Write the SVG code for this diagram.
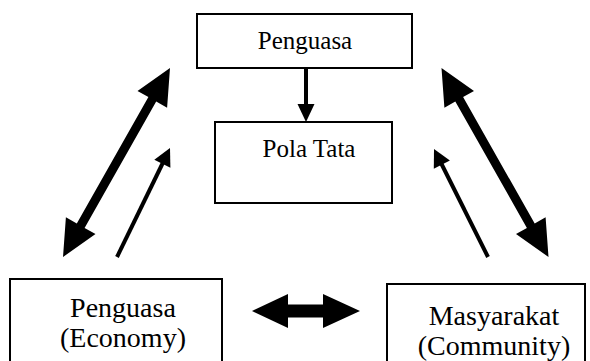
<svg xmlns="http://www.w3.org/2000/svg" width="590" height="361" viewBox="0 0 590 361">
<style>
.box{fill:#fff;stroke:#000;stroke-width:2}
.t{fill:#000;text-anchor:middle}
.ar{fill:#000;stroke:none}
.sh{stroke:#000;stroke-width:4;fill:none}
</style>
<rect width="590" height="361" fill="#fff"/>
<g id="connectors">
<line class="sh" x1="306" y1="68" x2="306" y2="106"/>
<polygon class="ar" points="297.5,104 314.5,104 306,122"/>
<polygon class="ar" points="170,68 167.1,107.7 156.2,101.5 84.6,227.9 95.5,234.1 63,257 65.9,217.3 76.8,223.5 148.4,97.1 137.5,90.9"/>
<polygon class="ar" points="441.5,68 444.4,107.7 455.3,101.5 526.9,227.9 516,234.1 548.5,257 545.6,217.3 534.7,223.5 463.1,97.1 474,90.9"/>
<line class="sh" x1="117" y1="257" x2="163.5" y2="161.5"/>
<polygon class="ar" points="170,148 170.4,167.7 154.3,159.8"/>
<line class="sh" x1="488" y1="257" x2="440.8" y2="162.5"/>
<polygon class="ar" points="434,149 449.9,160.6 433.8,168.7"/>
<polygon class="ar" points="252,311 288,294 288,304.5 323,304.5 323,294 360,311 323,328 323,317.5 288,317.5 288,328"/>
</g>
<g font-family="'Liberation Serif', 'DejaVu Serif', serif">
<g id="penguasa-top">
<rect class="box" x="197" y="14" width="215" height="54"/>
<text class="t" x="305" y="49" font-size="25">Penguasa</text>
</g>
<g id="pola-tata">
<rect class="box" x="215" y="122" width="177" height="81"/>
<text class="t" x="309" y="157" font-size="25">Pola Tata</text>
</g>
<g id="penguasa-economy">
<rect class="box" x="10" y="279" width="212" height="92"/>
<text class="t" x="123" y="317" font-size="28">Penguasa</text>
<text class="t" x="123" y="347" font-size="28">(Economy)</text>
</g>
<g id="masyarakat">
<rect class="box" x="387" y="284" width="198" height="92"/>
<text class="t" x="494" y="325" font-size="28">Masyarakat</text>
<text class="t" x="494" y="355" font-size="28">(Community)</text>
</g>
</g>
</svg>
